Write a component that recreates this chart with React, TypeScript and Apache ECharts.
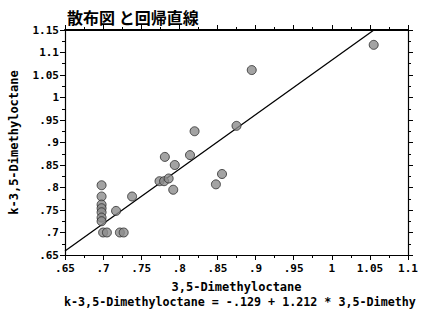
import React, { useEffect, useRef } from "react";
import * as echarts from "echarts";

const titleText = "散布図 と回帰直線";
const xName = "3,5-Dimethyloctane";
const yName = "k-3,5-Dimethyloctane";
const equationText = "k-3,5-Dimethyloctane = -.129 + 1.212 * 3,5-Dimethy";

const xValues = [
  0.698, 0.698, 0.698, 0.698, 0.698, 0.698, 0.698,
  0.700, 0.705, 0.722, 0.727,
  0.717, 0.738,
  0.774, 0.780, 0.786, 0.792, 0.781, 0.794, 0.814, 0.820,
  0.848, 0.856, 0.875, 0.895, 1.055,
];
const yValues = [
  0.805, 0.780, 0.762, 0.754, 0.745, 0.733, 0.725,
  0.700, 0.700, 0.700, 0.700,
  0.748, 0.780,
  0.814, 0.814, 0.820, 0.795, 0.868, 0.850, 0.872, 0.925,
  0.807, 0.830, 0.937, 1.061, 1.117,
];

const regIntercept = -0.129;
const regSlope = 1.212;

const xMin = 0.65;
const xMax = 1.1;
const yMin = 0.65;
const yMax = 1.15;
const tickStep = 0.05;

const fmt = (v: number) => {
  let s = (Math.round(v * 1000) / 1000).toString();
  if (s.startsWith("0.")) s = s.slice(1);
  return s;
};

const monoFont = "'DejaVu Sans Mono', monospace";

export default function App() {
  const ref = useRef<HTMLDivElement>(null);
  useEffect(() => {
    if (!ref.current) return;
    const chart = echarts.init(ref.current, undefined, { renderer: "svg" });
    const points = xValues.map((x, i) => [x, yValues[i]]);
    const lineEndX = Math.min(xMax, (yMax - regIntercept) / regSlope);
    const regLine = [
      [xMin, regIntercept + regSlope * xMin],
      [lineEndX, regIntercept + regSlope * lineEndX],
    ];
    const axisCommon = {
      type: "value" as const,
      interval: tickStep,
      axisLine: { show: true, onZero: false, lineStyle: { color: "#000", width: 1.2 } },
      axisTick: { show: true, inside: false, length: 5, lineStyle: { color: "#000" } },
      minorTick: { show: true, splitNumber: 2, length: 3, lineStyle: { color: "#000" } },
      splitLine: { show: false },
    };
    const labelStyle = {
      color: "#000",
      fontFamily: monoFont,
      fontWeight: "bold" as const,
      fontSize: 11,
      formatter: (v: number) => fmt(v),
    };
    chart.setOption({
      animation: false,
      backgroundColor: "#fff",
      title: {
        text: titleText,
        left: 62,
        top: 4,
        textStyle: {
          fontFamily: "'Noto Sans CJK JP', sans-serif",
          fontWeight: "bold",
          fontSize: 16,
          color: "#000",
        },
      },
      grid: { left: 65, right: 13, top: 30, bottom: 68 },
      xAxis: [
        {
          ...axisCommon,
          position: "bottom",
          min: xMin,
          max: xMax,
          axisLabel: { ...labelStyle, margin: 8 },
          name: xName,
          nameLocation: "middle",
          nameGap: 26,
          nameTextStyle: { color: "#000", fontFamily: monoFont, fontWeight: "bold", fontSize: 12 },
        },
        {
          ...axisCommon,
          position: "top",
          min: xMin,
          max: xMax,
          axisLine: { show: true, onZero: false, lineStyle: { color: "#000", width: 2 } },
          axisLabel: { show: false },
        },
      ],
      yAxis: [
        {
          ...axisCommon,
          position: "left",
          min: yMin,
          max: yMax,
          axisLabel: { ...labelStyle, margin: 6 },
          name: yName,
          nameLocation: "middle",
          nameGap: 45,
          nameTextStyle: { color: "#000", fontFamily: monoFont, fontWeight: "bold", fontSize: 12 },
        },
        {
          ...axisCommon,
          position: "right",
          min: yMin,
          max: yMax,
          axisLabel: { show: false },
        },
      ],
      graphic: [
        {
          type: "text",
          left: 64,
          top: 296,
          style: {
            text: equationText,
            fill: "#000",
            font: "bold 11.7px 'DejaVu Sans Mono', monospace",
          },
        },
      ],
      series: [
        {
          type: "line",
          data: regLine,
          symbol: "none",
          clip: true,
          lineStyle: { color: "#000", width: 1.3 },
          z: 2,
        },
        {
          type: "scatter",
          data: points,
          symbol: "circle",
          symbolSize: 9,
          itemStyle: { color: "#8c8c8c", borderColor: "#2a2a2a", borderWidth: 1 },
          z: 3,
        },
      ],
    });
    return () => chart.dispose();
  }, []);
  return (
    <div
      ref={ref}
      style={{ position: "absolute", left: 0, top: 0, width: 421, height: 323 }}
    />
  );
}
